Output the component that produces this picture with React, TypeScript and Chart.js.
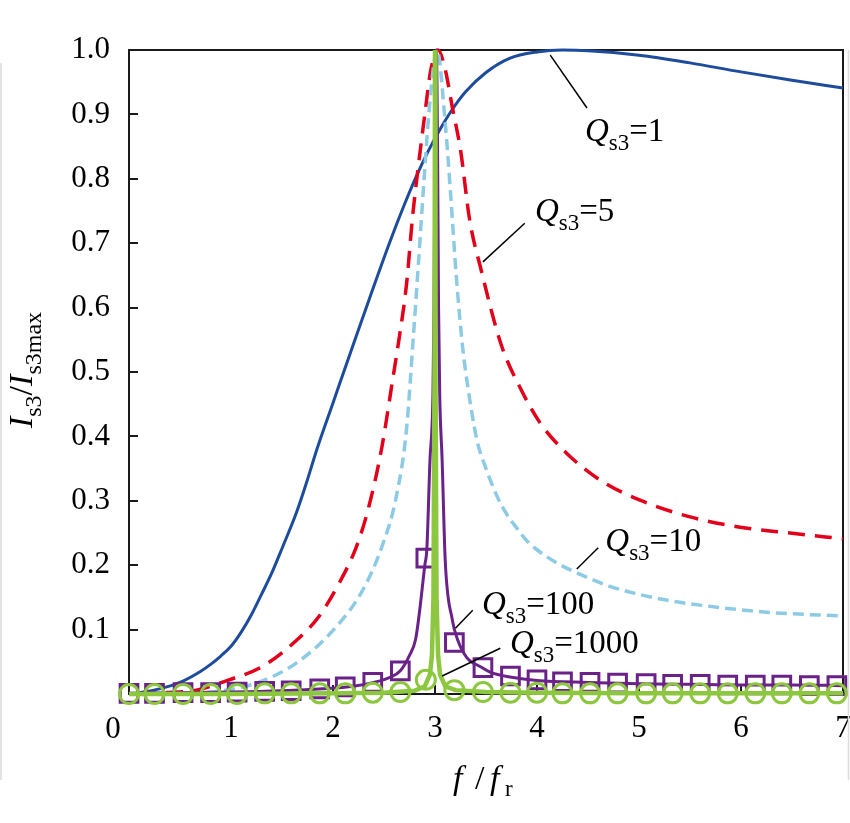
import React, { useEffect, useRef } from "react";
import Chart from "chart.js/auto";

// ---- data ----
const q1X = [0.1, 0.3, 0.5, 0.7, 0.8, 0.9, 1.0, 1.1, 1.2, 1.3, 1.4, 1.5, 1.64, 1.74, 1.84, 2.0, 2.2, 2.4, 2.56, 2.7, 2.82, 2.94, 3.05, 3.15, 3.3, 3.5, 3.73, 4.0, 4.25, 4.5, 5.0, 5.5, 6.0, 6.5, 7.0];
const q1Y = [0.002, 0.008, 0.018, 0.035, 0.046, 0.059, 0.074, 0.096, 0.123, 0.155, 0.188, 0.226, 0.281, 0.328, 0.379, 0.452, 0.543, 0.633, 0.703, 0.76, 0.805, 0.845, 0.877, 0.903, 0.935, 0.965, 0.987, 0.997, 1.0, 0.999, 0.992, 0.98, 0.966, 0.953, 0.941];

const q5X = [0.1, 0.33, 0.66, 0.98, 1.3, 1.64, 1.86, 2.06, 2.23, 2.35, 2.48, 2.58, 2.65, 2.72, 2.78, 2.84, 2.9, 2.96, 3.03, 3.1, 3.17, 3.25, 3.34, 3.45, 3.65, 3.83, 4.03, 4.29, 4.62, 5.01, 5.5, 5.99, 6.48, 7.0];
const q5Y = [0.0, 0.002, 0.006, 0.022, 0.042, 0.083, 0.12, 0.172, 0.229, 0.29, 0.384, 0.483, 0.554, 0.635, 0.741, 0.824, 0.9, 0.97, 1.0, 0.97, 0.911, 0.845, 0.736, 0.66, 0.542, 0.477, 0.421, 0.374, 0.332, 0.301, 0.275, 0.259, 0.25, 0.241];

const q10X = [0.1, 0.5, 0.81, 1.25, 1.64, 2.03, 2.29, 2.48, 2.62, 2.72, 2.79, 2.84, 2.89, 2.95, 3.02, 3.1, 3.15, 3.21, 3.27, 3.31, 3.41, 3.5, 3.6, 3.7, 3.8, 3.9, 4.0, 4.2, 4.42, 4.7, 4.94, 5.3, 5.6, 6.25, 7.0];
const q10Y = [0.0, 0.001, 0.003, 0.017, 0.048, 0.104, 0.161, 0.229, 0.306, 0.41, 0.56, 0.674, 0.793, 0.92, 1.0, 0.887, 0.783, 0.646, 0.54, 0.49, 0.395, 0.35, 0.31, 0.28, 0.258, 0.238, 0.224, 0.203, 0.186, 0.168, 0.157, 0.145, 0.138, 0.127, 0.121];

const q100X = [0.0, 0.5, 1.0, 1.5, 1.9, 2.2, 2.4, 2.56, 2.66, 2.75, 2.81, 2.85, 2.9, 2.92, 2.95, 2.98, 2.99, 3.0, 3.013, 3.025, 3.035, 3.046, 3.07, 3.1, 3.17, 3.22, 3.31, 3.45, 3.54, 3.75, 4.0, 4.5, 5.0, 5.5, 6.0, 6.5, 7.0];
const q100Y = [0.001, 0.002, 0.003, 0.005, 0.008, 0.012, 0.018, 0.026, 0.036, 0.06, 0.085, 0.13, 0.2, 0.225, 0.36, 0.467, 0.6, 0.85, 1.0, 0.85, 0.6, 0.467, 0.363, 0.208, 0.115, 0.085, 0.057, 0.042, 0.034, 0.026, 0.021, 0.018, 0.016, 0.015, 0.014, 0.014, 0.013];

const q1000X = [0.0, 1.0, 2.0, 2.5, 2.8, 2.9, 2.95, 2.97, 2.985, 2.995, 3.0, 3.005, 3.015, 3.03, 3.05, 3.1, 3.2, 3.5, 4.0, 5.0, 6.0, 7.0];
const q1000Y = [0.0, 0.0, 0.001, 0.002, 0.005, 0.012, 0.03, 0.06, 0.15, 0.5, 1.0, 0.5, 0.15, 0.06, 0.03, 0.012, 0.006, 0.003, 0.002, 0.001, 0.001, 0.001];

const markerX = [0.0, 0.25, 0.53, 0.8, 1.06, 1.33, 1.59, 1.87, 2.12, 2.39, 2.66, 2.91, 3.19, 3.47, 3.74, 4.0, 4.25, 4.52, 4.79, 5.07, 5.33, 5.6, 5.87, 6.14, 6.4, 6.67, 6.94];
const q100MarkY = [0.001, 0.001, 0.002, 0.002, 0.003, 0.004, 0.005, 0.008, 0.011, 0.018, 0.036, 0.211, 0.08, 0.041, 0.028, 0.022, 0.019, 0.018, 0.017, 0.016, 0.015, 0.015, 0.014, 0.014, 0.014, 0.013, 0.013];
const q1000MarkY = [0.0, 0.0, 0.0, 0.0, 0.0, 0.001, 0.001, 0.001, 0.001, 0.002, 0.003, 0.022, 0.006, 0.003, 0.002, 0.002, 0.001, 0.001, 0.001, 0.001, 0.001, 0.001, 0.001, 0.001, 0.001, 0.001, 0.001];

const xTicks = [0, 1, 2, 3, 4, 5, 6, 7];
const yTicks = [0.1, 0.2, 0.3, 0.4, 0.5, 0.6, 0.7, 0.8, 0.9, 1.0];

const qLabels = ["1", "5", "10", "100", "1000"];
// label anchor (data coords): text start, leader start, leader end
const labelText = [[4.47, 0.859], [3.98, 0.734], [4.67, 0.222], [3.46, 0.124], [3.735, 0.064]];
const leaderFrom = [[4.13, 0.992], [3.88, 0.731], [4.6, 0.227], [3.37, 0.13], [3.64, 0.071]];
const leaderTo = [[4.49, 0.91], [3.47, 0.671], [4.39, 0.194], [3.2, 0.102], [3.07, 0.028]];

const FONT = '"Liberation Serif", "Times New Roman", serif';
const PLOT_RIGHT = 843;

const pts = (xs: number[], ys: number[]) => xs.map((x, i) => ({ x, y: ys[i] }));

type Part = { t: string; italic?: boolean; size: number; dy?: number; at?: number };

function richWidth(ctx: CanvasRenderingContext2D, parts: Part[]) {
  let w = 0;
  for (const p of parts) {
    ctx.font = `${p.italic ? "italic " : ""}${p.size}px ${FONT}`;
    w += ctx.measureText(p.t).width;
  }
  return w;
}

function drawRich(ctx: CanvasRenderingContext2D, parts: Part[], x: number, y: number) {
  let cx = x;
  ctx.textAlign = "left";
  ctx.textBaseline = "alphabetic";
  for (const p of parts) {
    ctx.font = `${p.italic ? "italic " : ""}${p.size}px ${FONT}`;
    if (p.at !== undefined) cx = x + p.at;
    ctx.fillText(p.t, cx, y + (p.dy || 0));
    cx += ctx.measureText(p.t).width;
  }
}

const decorPlugin = {
  id: "decor",
  afterLayout(chart: any) {
    const xs = chart.scales.x;
    if (xs && Math.abs(xs.right - PLOT_RIGHT) > 0.5) {
      xs.right = PLOT_RIGHT;
      xs.width = PLOT_RIGHT - xs.left;
      xs.configure();
      chart.chartArea.right = PLOT_RIGHT;
      chart.chartArea.width = PLOT_RIGHT - chart.chartArea.left;
    }
  },
  beforeDatasetsDraw(chart: any) {
    const { ctx, chartArea: a } = chart;
    const xs = chart.scales.x;
    const ys = chart.scales.y;
    ctx.save();
    // faint frame of the source picture
    ctx.strokeStyle = "#dcdcdc";
    ctx.lineWidth = 1.5;
    ctx.beginPath();
    ctx.moveTo(1, 63);
    ctx.lineTo(1, 780);
    ctx.moveTo(848.5, 50);
    ctx.lineTo(848.5, 780);
    ctx.stroke();
    // box
    ctx.strokeStyle = "#1a1a1a";
    ctx.lineWidth = 2;
    ctx.strokeRect(a.left, a.top, a.right - a.left, a.bottom - a.top);
    // inward ticks
    ctx.beginPath();
    for (const v of yTicks) {
      if (v >= 1) continue;
      const py = Math.round(ys.getPixelForValue(v));
      ctx.moveTo(a.left, py);
      ctx.lineTo(a.left + 9, py);
    }
    for (const v of xTicks) {
      if (v === 0 || v === 7) continue;
      const px = Math.round(xs.getPixelForValue(v));
      ctx.moveTo(px, a.bottom);
      ctx.lineTo(px, a.bottom - 9);
    }
    ctx.stroke();
    ctx.restore();
  },
  afterDatasetsDraw(chart: any) {
    const { ctx, chartArea: a } = chart;
    const xs = chart.scales.x;
    const ys = chart.scales.y;
    ctx.save();
    ctx.fillStyle = "#000";
    ctx.strokeStyle = "#000";
    ctx.lineWidth = 1.5;
    for (let i = 0; i < qLabels.length; i++) {
      ctx.beginPath();
      ctx.moveTo(xs.getPixelForValue(leaderFrom[i][0]), ys.getPixelForValue(leaderFrom[i][1]));
      ctx.lineTo(xs.getPixelForValue(leaderTo[i][0]), ys.getPixelForValue(leaderTo[i][1]));
      ctx.stroke();
      drawRich(
        ctx,
        [
          { t: "Q", italic: true, size: 33 },
          { t: "s3", size: 23, dy: 9 },
          { t: "=" + qLabels[i], size: 33 },
        ],
        xs.getPixelForValue(labelText[i][0]),
        ys.getPixelForValue(labelText[i][1])
      );
    }
    // origin label
    ctx.font = `31px ${FONT}`;
    ctx.textAlign = "center";
    ctx.textBaseline = "alphabetic";
    ctx.fillText("0", a.left - 16, a.bottom + 44);
    // x title
    drawRich(
      ctx,
      [
        { t: "f", italic: true, size: 34, at: 0 },
        { t: "/", size: 34, at: 22 },
        { t: "f", italic: true, size: 34, at: 37 },
        { t: "r", size: 23, dy: 7, at: 52 },
      ],
      453,
      789
    );
    // y title
    const yParts: Part[] = [
      { t: "I", italic: true, size: 34 },
      { t: "s3", size: 24, dy: 9 },
      { t: "/", size: 34 },
      { t: "I", italic: true, size: 34 },
      { t: "s3max", size: 24, dy: 9 },
    ];
    const w = richWidth(ctx, yParts);
    ctx.translate(32, 370 + w / 2);
    ctx.rotate(-Math.PI / 2);
    drawRich(ctx, yParts, 0, 0);
    ctx.restore();
  },
};

export default function App() {
  const ref = useRef<HTMLCanvasElement | null>(null);
  useEffect(() => {
    document.body.style.margin = "0";
    const canvas = ref.current;
    if (!canvas) return;
    const chart = new Chart(canvas, {
      type: "line",
      data: {
        datasets: [
          {
            label: "Q1000 markers",
            data: pts(markerX, q1000MarkY),
            showLine: false,
            pointStyle: "circle",
            pointRadius: 9.5,
            pointBorderWidth: 3,
            borderColor: "#8dc63f",
            backgroundColor: "rgba(0,0,0,0)",
            pointBackgroundColor: "rgba(0,0,0,0)",
            clip: false,
            order: 0,
          },
          {
            label: "Q=1000",
            data: pts(q1000X, q1000Y),
            borderColor: "#8dc63f",
            borderWidth: 4.5,
            pointRadius: 0,
            tension: 0,
            clip: false,
            order: 1,
          },
          {
            label: "Q100 markers",
            data: pts(markerX, q100MarkY),
            showLine: false,
            pointStyle: "rect",
            pointRadius: 12.5,
            pointBorderWidth: 3,
            borderColor: "#6a2289",
            backgroundColor: "rgba(0,0,0,0)",
            pointBackgroundColor: "rgba(0,0,0,0)",
            clip: false,
            order: 2,
          },
          {
            label: "Q=100",
            data: pts(q100X, q100Y),
            borderColor: "#6a2289",
            borderWidth: 3,
            pointRadius: 0,
            cubicInterpolationMode: "monotone",
            clip: false,
            order: 3,
          },
          {
            label: "Q=10",
            data: pts(q10X, q10Y),
            borderColor: "#8ccbe3",
            borderWidth: 3.5,
            borderDash: [11, 6],
            pointRadius: 0,
            cubicInterpolationMode: "monotone",
            clip: false,
            order: 4,
          },
          {
            label: "Q=5",
            data: pts(q5X, q5Y),
            borderColor: "#e2001a",
            borderWidth: 3.5,
            borderDash: [17, 10],
            pointRadius: 0,
            cubicInterpolationMode: "monotone",
            clip: false,
            order: 5,
          },
          {
            label: "Q=1",
            data: pts(q1X, q1Y),
            borderColor: "#1d4c9c",
            borderWidth: 3,
            pointRadius: 0,
            cubicInterpolationMode: "monotone",
            clip: false,
            order: 6,
          },
        ] as any,
      },
      options: {
        responsive: false,
        animation: false,
        devicePixelRatio: 1,
        layout: { padding: { top: 50, right: 7, left: 0, bottom: 0 } },
        plugins: { legend: { display: false }, tooltip: { enabled: false } },
        scales: {
          x: {
            type: "linear",
            min: 0,
            max: 7,
            afterBuildTicks: (s: any) => {
              s.ticks = xTicks.map((v) => ({ value: v }));
            },
            afterFit: (s: any) => {
              s.height = 129;
            },
            grid: { display: false, drawTicks: false },
            border: { display: false },
            ticks: {
              padding: 16,
              color: "#000",
              font: { family: FONT, size: 31 },
              maxRotation: 0,
              autoSkip: false,
              callback: (v: any) => (Number(v) === 0 ? "" : String(v)),
            },
          },
          y: {
            type: "linear",
            min: 0,
            max: 1,
            afterBuildTicks: (s: any) => {
              s.ticks = [0, ...yTicks].map((v) => ({ value: v }));
            },
            afterFit: (s: any) => {
              s.width = 129;
            },
            grid: { display: false, drawTicks: false },
            border: { display: false },
            ticks: {
              padding: 19,
              color: "#000",
              font: { family: FONT, size: 31 },
              autoSkip: false,
              callback: (v: any) => (Number(v) === 0 ? "" : Number(v).toFixed(1)),
            },
          },
        },
      } as any,
      plugins: [decorPlugin],
    });
    return () => chart.destroy();
  }, []);
  return <canvas ref={ref} width={850} height={823} style={{ display: "block" }} />;
}
